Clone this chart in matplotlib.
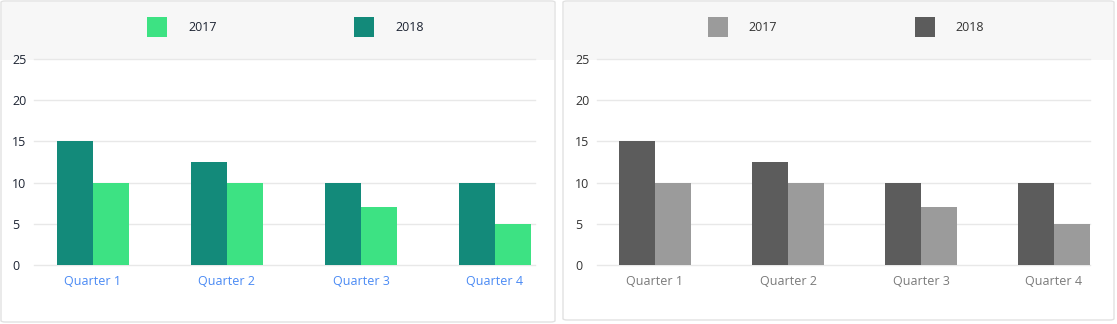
import matplotlib
matplotlib.use("Agg")
import matplotlib.pyplot as plt
from matplotlib.patches import FancyBboxPatch, Rectangle

categories = ["Quarter 1", "Quarter 2", "Quarter 3", "Quarter 4"]
series_names = ["2017", "2018"]
values_2017 = [10, 10, 7, 5]
values_2018 = [15, 12.5, 10, 10]
yticks = [0, 5, 10, 15, 20, 25]

W, H = 1117, 324
DPI = 100
fig = plt.figure(figsize=(W / DPI, H / DPI), dpi=DPI)
fig.patch.set_facecolor("white")
plt.rcParams['font.family'] = ['Open Sans', 'DejaVu Sans']

def fx(px):
    return px / W

def fy(py):
    return 1 - py / H

panels = [
    dict(card=(1, 1, 555, 322), axes=(34, 535), c0=93, step=134, lab_x=12,
         colors={"2017": "#3de283", "2018": "#138a7a"}, xlab="#4a8af4", ylab="#1d2433",
         legend=[(147, 188), (354, 395)], legtxt="#1d2433"),
    dict(card=(563, 1, 1114, 320), axes=(597, 1090), c0=655, step=133, lab_x=575,
         colors={"2017": "#9b9b9b", "2018": "#5c5c5c"}, xlab="#7a7a7a", ylab="#333333",
         legend=[(708, 748), (915, 955)], legtxt="#333333"),
]

y0_px, y25_px = 265, 59
bw_px = 36

for p in panels:
    l, t, r, b = p["card"]
    card = FancyBboxPatch((fx(l), fy(b)), fx(r - l), (b - t) / H,
                          boxstyle="round,pad=0,rounding_size=0.004",
                          transform=fig.transFigure, facecolor="white",
                          edgecolor="#e2e2e2", linewidth=1.0, zorder=0)
    fig.patches.append(card)
    head = Rectangle((fx(l + 1), fy(60)), fx(r - l - 2), (60 - t - 1) / H,
                     transform=fig.transFigure, facecolor="#f7f7f7",
                     edgecolor="none", zorder=1)
    fig.patches.append(head)

    # legend
    for (sx, tx), name in zip(p["legend"], series_names):
        sq = Rectangle((fx(sx), fy(37)), fx(20), 20 / H, transform=fig.transFigure,
                       facecolor=p["colors"][name], edgecolor="none", zorder=2)
        fig.patches.append(sq)
        fig.text(fx(tx), fy(27.5), name, ha="left", va="center", fontsize=9,
                 color=p["legtxt"])

    al, ar = p["axes"]
    ax = fig.add_axes([fx(al), fy(y0_px), fx(ar - al), (y0_px - y25_px) / H])
    ax.set_facecolor("none")
    ax.set_zorder(3)
    step = p["step"]
    xl = (-(p["c0"] - al) / step, 3 + (ar - (p["c0"] + 3 * step)) / step)
    ax.set_xlim(*xl)
    ax.set_ylim(0, 25)
    w = bw_px / step
    xs = list(range(len(categories)))
    ax.bar([x - w / 2 for x in xs], values_2018, width=w, color=p["colors"]["2018"], zorder=2)
    ax.bar([x + w / 2 for x in xs], values_2017, width=w, color=p["colors"]["2017"], zorder=2)
    for v in yticks:
        ax.axhline(v, color="#e8e8e8", linewidth=1, zorder=1, clip_on=False)
    for s in ax.spines.values():
        s.set_visible(False)
    ax.set_xticks(xs)
    ax.set_xticklabels(categories, color=p["xlab"], fontsize=9)
    ax.set_yticks(yticks)
    ax.set_yticklabels([str(v) for v in yticks], color=p["ylab"], fontsize=9, ha="left")
    pad_pt = (al - p["lab_x"]) * 72 / DPI
    ax.tick_params(axis="y", length=0, pad=pad_pt)
    ax.tick_params(axis="x", length=0, pad=7)

fig.savefig("out.png", dpi=DPI)
